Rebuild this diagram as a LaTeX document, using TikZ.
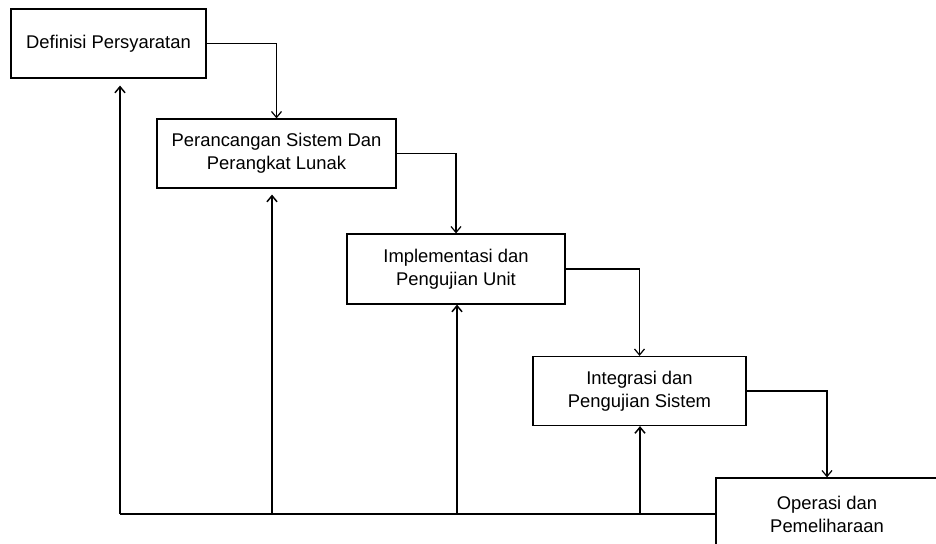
\documentclass[tikz,border=0pt]{standalone}
\usepackage{fontspec}
\setmainfont{Liberation Sans}
\usetikzlibrary{arrows.meta,positioning}

\begin{document}
\begin{tikzpicture}[x=1pt,y=-1pt,
  phase/.style={draw,line width=1.2pt,align=center,inner sep=0pt,font=\fontsize{18.4}{23}\selectfont},
  flow/.style={-{Straight Barb[length=6pt,width=10pt]},line width=1.2pt},
  back/.style={-{Straight Barb[length=6pt,width=10pt]},line width=1.5pt}]
\useasboundingbox (0,0) rectangle (936,543);
\clip (0,0) rectangle (936,543);
% tahapan
\node[phase,minimum width=195pt,minimum height=69pt] (def) at (108.5,43.5) {Definisi Persyaratan};
\node[phase,minimum width=239pt,minimum height=69pt] (ran) at (276.5,153.5) {Perancangan Sistem Dan\\Perangkat Lunak};
\node[phase,minimum width=218pt,minimum height=70pt] (imp) at (456,269) {Implementasi dan\\Pengujian Unit};
\node[phase,minimum width=213pt,minimum height=69pt] (int) at (639.5,391) {Integrasi dan\\Pengujian Sistem};
\node[phase,minimum width=222pt,minimum height=72pt] (ops) at (827,514) {Operasi dan\\Pemeliharaan};
% alur ke bawah
\draw[flow] (def.east) -| (ran.north);
\draw[flow] (ran.east) -| (imp.north);
\draw[flow] (imp.east) -| (int.north);
\draw[flow] (int.east) -| (ops.north);
% umpan balik
\coordinate (b1) at (120,514);
\coordinate (b2) at (272,514);
\coordinate (b3) at (457,514);
\coordinate (b4) at (640,514);
\draw[line width=1.5pt] (b1) -- (ops.west);
\draw[back,shorten >=7pt] (b1) -- (b1 |- def.south);
\draw[back,shorten >=6pt] (b2) -- (b2 |- ran.south);
\draw[back] (b3) -- (b3 |- imp.south);
\draw[back] (b4) -- (b4 |- int.south);
\end{tikzpicture}
\end{document}
